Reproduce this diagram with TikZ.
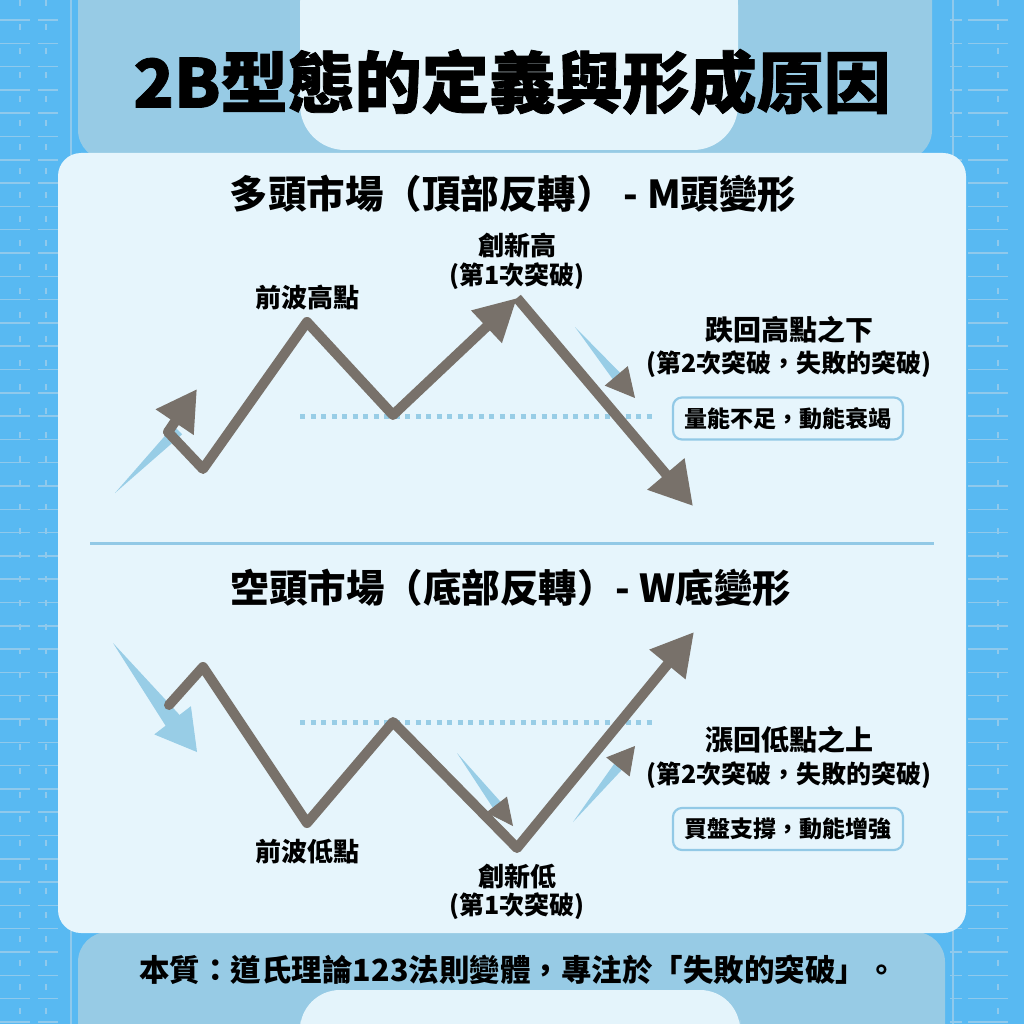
\documentclass[tikz,border=0pt]{standalone}
\usepackage{fontspec}
\setmainfont{Noto Sans CJK TC}
\newfontfamily\heavyfont{Noto Sans CJK TC}[BoldFeatures={FakeBold=1.2}]
\usetikzlibrary{arrows.meta,calc}
\definecolor{outerblue}{HTML}{58B9F2}
\definecolor{midblue}{HTML}{97CBE5}
\definecolor{paleblue}{HTML}{E4F4FB}
\definecolor{panelfill}{HTML}{E6F5FC}
\definecolor{gridblue}{HTML}{8FC9EC}
\definecolor{pathgray}{HTML}{78716A}
\definecolor{shadowblue}{HTML}{98CDE6}
\definecolor{boxline}{HTML}{92C9E6}
\begin{document}
\begin{tikzpicture}[x=1pt,y=-1pt,
  trend/.style={draw=pathgray, line width=10pt, line join=round, line cap=round},
  headtip/.style 2 args={-{Triangle[length=#1pt,width=#2pt]}},
  lbl/.style={font=\fontsize{26}{30}\selectfont\bfseries, inner sep=0pt},
  biglbl/.style={font=\fontsize{28}{32}\selectfont\bfseries, inner sep=0pt},
  sublbl/.style={font=\fontsize{25}{30}\selectfont\bfseries, inner sep=0pt},
  notebox/.style={draw=boxline, line width=2.2pt, rounded corners=9pt, fill=panelfill,
    font=\fontsize{23}{27}\selectfont\bfseries, minimum width=230pt, minimum height=42pt, inner sep=0pt},
  heading/.style={font=\fontsize{38.5}{42}\selectfont\bfseries, inner sep=0pt},
  dots/.style={shadowblue, line width=5pt, dash pattern=on 5pt off 5.5pt},
  gridln/.style={gridblue, line width=1.5pt}
]
\useasboundingbox (0,0) rectangle (1024,1024);
% ---------- background ----------
\fill[outerblue] (0,0) rectangle (1024,1024);
\foreach \yy in {20,43.3,...,1024} {
  \draw[gridln, dash pattern=on 30pt off 8pt on 20pt off 20pt] (0,\yy) -- (75,\yy);
  \draw[gridln, dash pattern=on 12pt off 6pt on 40pt off 20pt] (950,\yy) -- (1024,\yy);
}
\foreach \xx in {20,46,998} { \draw[gridln, dash pattern=on 6pt off 18pt] (\xx,0) -- (\xx,1024); }
\foreach \xx in {71,953} { \draw[gridln] (\xx,0) -- (\xx,1024); }
\fill[midblue, rounded corners=30pt] (78,-40) rectangle (932,160);
\fill[midblue, rounded corners=30pt] (78,932) rectangle (945,1060);
\fill[paleblue, rounded corners=45pt] (300,-40) rectangle (738,150);
\fill[paleblue, rounded corners=40pt] (300,990) rectangle (740,1060);
% ---------- panel ----------
\fill[panelfill, rounded corners=23pt] (58,153) rectangle (966,933);
\draw[boxline, line width=3pt] (90,543) -- (934,543);
% ---------- titles ----------
\node[inner sep=0pt, font=\heavyfont\fontsize{67}{70}\selectfont\bfseries] (title) at (512,82) {2B型態的定義與形成原因};
\node[heading] (h1) at (513,194) {多頭市場（頂部反轉） - M頭變形};
\node[heading] (h2) at (511,588) {空頭市場（底部反轉）- W底變形};
\node[inner sep=0pt, font=\fontsize{30.5}{34}\selectfont\bfseries] (essence) at (518,970) {本質：道氏理論123法則變體，專注於「失敗的突破」。};
% ---------- top chart coordinates ----------
\coordinate (a0) at (168,432);
\coordinate (a1) at (203,469);
\coordinate (a2) at (307,322);
\coordinate (a3) at (393,415);
\coordinate (a4) at (517,298);
\coordinate (a5) at (693,506);
\coordinate (a0tip) at (197,389);
\coordinate (d1s) at (300,416);
\coordinate (d1e) at (652,416);
% shadows top
\coordinate (s1t) at (115,493);
\coordinate (s1h) at (178,430);
\coordinate (s2t) at (575,327);
\coordinate (s2tip) at (635,398);
\coordinate (s2b) at ($(s2tip)!27pt!(s2t)$);
\draw[dots] (d1s) -- (d1e);
\fill[shadowblue] (s1t) -- ($(s1h)!6pt!90:(s1t)$) -- ($(s1h)!6pt!-90:(s1t)$) -- cycle;
\fill[shadowblue] (s2t) -- ($(s2b)!5pt!90:(s2t)$) -- ($(s2b)!5pt!-90:(s2t)$) -- cycle;
\draw[pathgray, line width=1pt, headtip={29}{30}] (s2b) -- (s2tip);
% top trend
\draw[trend] (a0) -- (a1) -- (a2) -- (a3);
\draw[trend, line cap=butt, headtip={42}{42}] (a3) -- (a4);
\draw[trend, line cap=butt, headtip={42}{46}] (a4) -- (a5);
\draw[trend, headtip={40}{43}] (a0) -- (a0tip);
% top labels
\node[lbl] (l1) at (307,298) {前波高點};
\node[lbl] (l2) at (517,245) {創新高};
\node[sublbl] (l3) at (517,276) {(第1次突破)};
\node[biglbl] (l4) at (789,330) {跌回高點之下};
\node[sublbl] (l5) at (789,364) {(第2次突破，失敗的突破)};
\node[notebox] (box1) at (788,418.5) {量能不足，動能衰竭};
% ---------- bottom chart ----------
\coordinate (b0) at (169,705);
\coordinate (b1) at (203,667);
\coordinate (b2) at (307,823);
\coordinate (b3) at (393,722);
\coordinate (b4) at (517,848);
\coordinate (b5) at (694,632);
\coordinate (d2s) at (300,722);
\coordinate (d2e) at (652,722);
\coordinate (s3t) at (113,643);
\coordinate (s3tip) at (197,752);
\coordinate (s3b) at ($(s3tip)!38pt!(s3t)$);
\coordinate (s4t) at (457,753);
\coordinate (s4tip) at (513,826);
\coordinate (s4b) at ($(s4tip)!25pt!(s4t)$);
\coordinate (s5t) at (573,822);
\coordinate (s5tip) at (635,746);
\coordinate (s5b) at ($(s5tip)!25pt!(s5t)$);
\draw[dots] (d2s) -- (d2e);
\fill[shadowblue] (s3t) -- ($(s3b)!9pt!90:(s3t)$) -- ($(s3b)!9pt!-90:(s3t)$) -- cycle;
\draw[shadowblue, line width=1pt, headtip={40}{46}] (s3b) -- (s3tip);
\draw[trend] (b0) -- (b1) -- (b2) -- (b3) -- (b4);
\draw[trend, line cap=butt, headtip={42}{44}] (b4) -- (b5);
\fill[shadowblue] (s4t) -- ($(s4b)!5pt!90:(s4t)$) -- ($(s4b)!5pt!-90:(s4t)$) -- cycle;
\draw[pathgray, line width=1pt, headtip={27}{26}] (s4b) -- (s4tip);
\fill[shadowblue] (s5t) -- ($(s5b)!5pt!90:(s5t)$) -- ($(s5b)!5pt!-90:(s5t)$) -- cycle;
\draw[pathgray, line width=1pt, headtip={27}{30}] (s5b) -- (s5tip);
% bottom labels
\node[lbl] (m1) at (307,852) {前波低點};
\node[lbl] (m2) at (517,876) {創新低};
\node[sublbl] (m3) at (517,906) {(第1次突破)};
\node[biglbl] (m4) at (789,740) {漲回低點之上};
\node[sublbl] (m5) at (789,775) {(第2次突破，失敗的突破)};
\node[notebox] (box2) at (788,829) {買盤支撐，動能增強};
\end{tikzpicture}
\end{document}
